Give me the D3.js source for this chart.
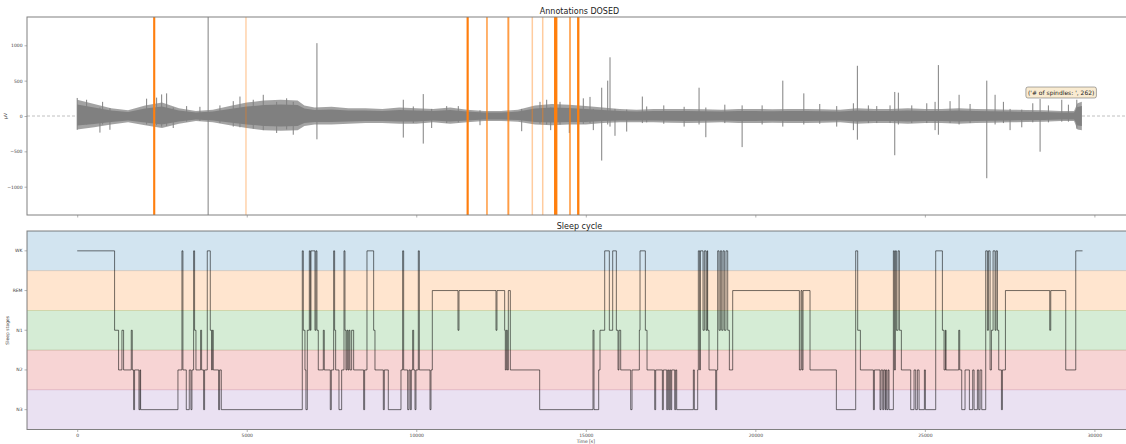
<!DOCTYPE html>
<html>
<head>
<meta charset="utf-8">
<script src="https://cdn.jsdelivr.net/npm/d3@7"></script>
<style>
  body { margin: 0; background: #fff; }
  svg { display: block; font-family: "DejaVu Sans", sans-serif; }
</style>
</head>
<body>
<div id="chart"></div>
<script>
// ---- data ----
const timeTicks = [0, 5000, 10000, 15000, 20000, 25000, 30000];
const voltTicks = [-1000, -500, 0, 500, 1000];
const stageLabels = ["WK", "REM", "N1", "N2", "N3"];

// EEG envelope (s, µV)
const envTimes = [0, 500, 1000, 1500, 2000, 2500, 3000, 3500, 4000, 4500, 5000, 5500, 6000, 6500, 6700,
  7000, 7500, 8000, 8500, 9000, 9500, 10000, 10500, 11000, 11500, 12000, 12500, 13000, 13500, 14000,
  14500, 15000, 15500, 16000, 16500, 17000, 17500, 18000, 18500, 19000, 19500, 20000, 20500, 21000,
  21500, 22000, 22500, 23000, 23500, 24000, 24500, 25000, 25500, 26000, 26500, 27000, 27500, 28000,
  28500, 29000, 29400, 29500, 29630];
const envUpper = [230, 170, 110, 80, 150, 190, 110, 70, 90, 140, 190, 220, 230, 220, 150,
  120, 130, 110, 110, 100, 120, 110, 100, 120, 90, 70, 70, 90, 150, 170,
  160, 140, 120, 100, 90, 100, 100, 100, 95, 90, 100, 100, 95, 100,
  100, 95, 90, 110, 100, 100, 110, 100, 100, 110, 100, 95, 90, 85,
  80, 70, 70, 180, 200];
const envLower = [-190, -160, -120, -90, -130, -170, -110, -70, -90, -130, -170, -200, -210, -200, -140,
  -120, -120, -110, -100, -100, -110, -110, -90, -110, -90, -70, -70, -80, -120, -130,
  -120, -120, -100, -90, -90, -90, -95, -100, -95, -90, -100, -100, -95, -100,
  -100, -95, -90, -110, -100, -100, -110, -100, -100, -110, -100, -95, -90, -85,
  -80, -70, -70, -190, -200];

// isolated artefacts / spikes (s, max µV, min µV)
const spikeTimes = [0, 277, 670, 749, 965, 2047, 2342, 2490, 2637, 2832, 3227, 3619, 3861, 4209, 4602,
  4800, 5192, 5487, 5882, 6177, 6372, 7070, 9617, 9912, 10206, 10454, 10897, 11239, 11879, 13109,
  13649, 13846, 13964, 14239, 14513, 14926, 15124, 15221, 15469, 15646, 15714, 15861, 16206, 16667,
  16796, 17300, 17900, 18340, 18540, 19100, 19610, 20200, 20810, 21430, 21900, 22400, 22891, 23009,
  23333, 23581, 23973, 24112, 24218, 24614, 25056, 25301, 25398, 25743, 26009, 26333, 26826, 27071,
  27316, 27513, 27858, 28183, 28398, 28643, 29038, 29233, 29481];
const spikeMax = [255, 230, 120, 200, 110, 245, 260, 305, 320, 120, 140, 130, 1500, 150, 210,
  275, 230, 300, 200, 250, 200, 1030, 230, 135, 310, 100, 140, 140, 80, 100,
  200, 230, 120, 200, 120, 250, 270, 100, 400, 500, 830, 100, 90, 275,
  135, 150, 130, 400, 120, 160, 150, 150, 500, 320, 170, 140, 180, 710,
  150, 140, 150, 340, 330, 150, 180, 200, 720, 210, 300, 170, 500, 300,
  200, 100, 90, 180, 240, 150, 230, 160, 230];
const spikeMin = [-195, -120, -235, -120, -195, -120, -130, -150, -140, -170, -80, -70, -1500, -100, -150,
  -160, -180, -200, -240, -190, -265, -330, -305, -100, -390, -170, -100, -90, -130, -215,
  -110, -120, -200, -120, -240, -110, -100, -200, -630, -120, -150, -280, -220, -100,
  -90, -110, -150, -120, -300, -100, -440, -120, -150, -120, -110, -150, -200, -335,
  -100, -100, -100, -555, -120, -100, -100, -200, -265, -100, -120, -100, -880, -120,
  -100, -200, -160, -90, -505, -90, -80, -80, -180];

// DOSED spindle detections (s) and detection score
const spindleTimes = [2263, 2280, 4977, 11505, 11525, 12085, 12705, 12725, 13422, 13729,
  14085, 14112, 14140, 14534, 14765, 14790];
const spindleScore = [1, 1, 0.35, 1, 1, 0.8, 0.6, 0.6, 0.4, 0.4, 1, 1, 1, 0.85, 1, 1];
const spindleCount = 262;

// hypnogram: epoch start (s) and stage
const hypnoTimes = [0, 1102, 1220, 1319, 1368, 1594, 1624, 1663, 1692, 1820, 1850, 1870, 2971, 3089, 3118,
  3217, 3305, 3354, 3384, 3433, 3462, 3502, 3639, 3669, 3728, 3757, 3836, 3925, 3964, 3984, 4013,
  4170, 4200, 4249,
  6638, 6668, 6717, 6746, 6786, 6845, 6874, 6894, 7012, 7041, 7071, 7110, 7258, 7287, 7464, 7494,
  7563, 7592, 7622, 7720, 7799, 7868, 7897, 7926, 7956, 7985, 8015, 8044, 8094, 8153, 8448, 8477,
  8546, 8743, 8782, 9028, 9057, 9175, 9549, 9598, 9628, 9746, 9785, 9824, 9854, 9893, 9923, 9962,
  9991, 10060, 10090, 10405, 10434, 10473, 11230, 11260,
  12351, 12380, 12607, 12626, 12656, 12685, 12715, 12774, 13639, 15212, 15242, 15380, 15419, 15557,
  15694, 15793, 15901, 15950, 15979, 16029, 16324, 16363, 16579, 16599, 16756, 16806, 17032, 17061,
  17258, 17287, 17386, 17415, 17445, 17474, 17504, 17533, 17622, 17651, 17681,
  18172, 18201, 18300, 18319, 18359, 18378, 18457, 18496, 18545, 18575, 18594, 18634, 18831, 18860,
  18890, 18929, 18968, 19008, 19047, 19086, 19135, 19185, 19234, 19332, 21299, 21348, 21378, 21407,
  21613, 22390, 22960, 23019, 23098, 23482, 23511, 23678, 23708, 23757, 23786, 23826,
  23845, 23875, 23914, 23943, 24071, 24101, 24130, 24160, 24209, 24248, 24307, 24583, 24681, 24730,
  24779, 24829, 24986, 25015, 25320, 25517, 25566, 25606, 25625, 25999, 26028, 26087, 26185, 26313,
  26411, 26451, 26549, 26588, 26628, 26677, 26795, 26844, 26874, 26923, 26962, 27012, 27071, 27100,
  27140, 27179, 27258, 27287, 27376, 28683, 28713, 29155, 29450, 29650];
const hypnoStages = ["WK", "N1", "N2", "N1", "N2", "N1", "N2", "N3", "N2", "N3", "N2", "N3", "N2", "WK", "N2",
  "N3", "N2", "N3", "N2", "WK", "N1", "N2", "N1", "N2", "N3", "N2", "WK", "N1", "N2", "N1", "N2",
  "N3", "N2", "N3",
  "WK", "N1", "N2", "N3", "N1", "WK", "N1", "WK", "N1", "WK", "N1", "N2", "N1", "N2", "N3", "N2",
  "WK", "N1", "N2", "N3", "N2", "WK", "N1", "N2", "N1", "N2", "N1", "N2", "N1", "N2", "N3", "N2",
  "WK", "N1", "N2", "N3", "N2", "N3", "N2", "WK", "N2", "N3", "N2", "N3", "N2", "N1", "N2", "N3",
  "N2", "WK", "N2", "N3", "N2", "REM", "N1", "REM",
  "N1", "REM", "N1", "N2", "N1", "N2", "REM", "N2", "N3", "N1", "N3", "N2", "N1", "WK",
  "N1", "WK", "N1", "N2", "N1", "N2", "N3", "N2", "N1", "WK", "N1", "N2", "N3", "N2",
  "N3", "N2", "N3", "N2", "N3", "N2", "N3", "N2", "N3", "N2", "N3",
  "N2", "N3", "N2", "WK", "N2", "WK", "N1", "WK", "N1", "WK", "N1", "N2", "N3", "N2",
  "WK", "N1", "WK", "N1", "WK", "N1", "WK", "N1", "N2", "REM", "N2", "REM", "N2", "REM",
  "N2", "N3", "WK", "N1", "N2", "N3", "N2", "N3", "N2", "N3", "N2", "N3",
  "N2", "N3", "N2", "N3", "WK", "N2", "WK", "N1", "WK", "N1", "N2", "N3", "N2", "N3",
  "N2", "N3", "N2", "N3", "WK", "N1", "N2", "N1", "N2", "N1", "N2", "N3", "N2", "N3",
  "N2", "N3", "N2", "N3", "N2", "N3", "WK", "N1", "WK", "N2", "N1", "WK", "N1", "WK",
  "N1", "N2", "N3", "N2", "REM", "N1", "REM", "N2", "WK", "WK"];

const bandColors = ["#1f77b4", "#ff7f0e", "#2ca02c", "#d62728", "#9467bd"];

// ---- layout ----
const W = 1126, H = 444;
const left = 27, right = 1132;
const p1 = { top: 17, bottom: 215 };
const p2 = { top: 231, bottom: 429.5 };

const svg = d3.select("#chart").append("svg")
    .attr("width", W)
    .attr("height", H);

const x = d3.scaleLinear().domain([-1481, 31109]).range([left, right]);
const y1 = d3.scaleLinear().domain([-1400, 1400]).range([p1.bottom, p1.top]);
const y2 = d3.scaleBand().domain(stageLabels).range([p2.top, p2.bottom]).padding(0);
const stageY = s => y2(s) + y2.bandwidth() / 2;

const defs = svg.append("defs");
defs.append("clipPath").attr("id", "clip1").append("rect")
    .attr("x", left).attr("y", p1.top).attr("width", right - left).attr("height", p1.bottom - p1.top);
defs.append("clipPath").attr("id", "clip2").append("rect")
    .attr("x", left).attr("y", p2.top).attr("width", right - left).attr("height", p2.bottom - p2.top);

// ---- top panel: EEG + annotations ----
const g1 = svg.append("g").attr("clip-path", "url(#clip1)");

g1.append("line")
    .attr("x1", left).attr("x2", right)
    .attr("y1", y1(0)).attr("y2", y1(0))
    .attr("stroke", "#b0b0b0")
    .attr("stroke-width", 0.8)
    .attr("stroke-dasharray", "3,2");

const env = envTimes.map((t, i) => ({ t: t, hi: envUpper[i], lo: envLower[i] }));
// outer fringe, a bit lighter
g1.append("path")
    .datum(env)
    .attr("fill", "#808080")
    .attr("fill-opacity", 0.72)
    .attr("d", d3.area().x(d => x(d.t)).y0(d => y1(d.lo)).y1(d => y1(d.hi)));
// dense core
g1.append("path")
    .datum(env)
    .attr("fill", "#808080")
    .attr("d", d3.area().x(d => x(d.t)).y0(d => y1(d.lo * 0.7)).y1(d => y1(d.hi * 0.7)));

g1.selectAll(".spike")
    .data(spikeTimes)
    .join("line")
    .attr("class", "spike")
    .attr("x1", d => x(d)).attr("x2", d => x(d))
    .attr("y1", (d, i) => y1(spikeMax[i]))
    .attr("y2", (d, i) => y1(spikeMin[i]))
    .attr("stroke", "#808080")
    .attr("stroke-width", 1);

const opacity = d3.scaleLinear().domain([0, 1]).range([0, 1]);
g1.selectAll(".spindle")
    .data(spindleTimes)
    .join("line")
    .attr("class", "spindle")
    .attr("x1", d => x(d)).attr("x2", d => x(d))
    .attr("y1", p1.top).attr("y2", p1.bottom)
    .attr("stroke", "#ff7f0e")
    .attr("stroke-opacity", (d, i) => opacity(spindleScore[i]))
    .attr("stroke-width", 1.5);

// annotation box
const note = svg.append("g").attr("transform", `translate(${x(27950)},${y1(335)})`);
const noteText = note.append("text")
    .attr("x", 3).attr("y", 2.2)
    .attr("font-size", "6px")
    .attr("fill", "#222")
    .text("('# of spindles: ', " + spindleCount + ")");
const nb = noteText.node().getBBox();
note.insert("rect", "text")
    .attr("x", nb.x - 2).attr("y", nb.y - 1.5)
    .attr("width", nb.width + 4).attr("height", nb.height + 3)
    .attr("rx", 2)
    .attr("fill", "#f5deb3").attr("fill-opacity", 0.6)
    .attr("stroke", "#555").attr("stroke-width", 0.5);

// ---- bottom panel: hypnogram ----
const g2 = svg.append("g").attr("clip-path", "url(#clip2)");

g2.selectAll(".band")
    .data(stageLabels)
    .join("rect")
    .attr("class", "band")
    .attr("x", left).attr("width", right - left)
    .attr("y", d => y2(d)).attr("height", y2.bandwidth())
    .attr("fill", (d, i) => bandColors[i])
    .attr("fill-opacity", 0.2)
    .attr("stroke", (d, i) => bandColors[i])
    .attr("stroke-opacity", 0.15)
    .attr("stroke-width", 0.8);

const hypno = hypnoTimes.map((t, i) => ({ t: t, s: hypnoStages[i] }));
g2.append("path")
    .datum(hypno)
    .attr("fill", "none")
    .attr("stroke", "#000")
    .attr("stroke-opacity", 0.55)
    .attr("stroke-width", 1)
    .attr("d", d3.line().curve(d3.curveStepAfter).x(d => x(d.t)).y(d => stageY(d.s)));

// ---- axes ----
const axisColor = "#808080";
function frame(p) {
    svg.append("rect")
        .attr("x", left).attr("y", p.top)
        .attr("width", right - left).attr("height", p.bottom - p.top)
        .attr("fill", "none")
        .attr("stroke", axisColor)
        .attr("stroke-width", 1);
}
frame(p1);
frame(p2);

function styleAxis(g) {
    g.select(".domain").remove();
    g.selectAll(".tick line").attr("stroke", axisColor).attr("stroke-width", 0.6);
    g.selectAll(".tick text").attr("fill", "#444").attr("font-size", "4.5px")
        .attr("font-family", "DejaVu Sans, sans-serif");
}

svg.append("g")
    .attr("transform", `translate(0,${p1.bottom})`)
    .call(d3.axisBottom(x).tickValues(timeTicks).tickSize(2.5).tickFormat(""))
    .call(styleAxis);

svg.append("g")
    .attr("transform", `translate(0,${p2.bottom})`)
    .call(d3.axisBottom(x).tickValues(timeTicks).tickSize(2.5).tickPadding(1.5).tickFormat(d3.format("d")))
    .call(styleAxis);

svg.append("g")
    .attr("transform", `translate(${left},0)`)
    .call(d3.axisLeft(y1).tickValues(voltTicks).tickSize(2.5).tickPadding(2)
        .tickFormat(d => d < 0 ? "\u2212" + Math.abs(d) : d))
    .call(styleAxis);

svg.append("g")
    .attr("transform", `translate(${left},0)`)
    .call(d3.axisLeft(y2).tickSize(2.5).tickPadding(2))
    .call(styleAxis);

// titles and labels
svg.append("text")
    .attr("x", (left + right) / 2).attr("y", 14)
    .attr("text-anchor", "middle")
    .attr("font-size", "8px")
    .attr("fill", "#222")
    .text("Annotations DOSED");

svg.append("text")
    .attr("x", (left + right) / 2).attr("y", 228.5)
    .attr("text-anchor", "middle")
    .attr("font-size", "8px")
    .attr("fill", "#222")
    .text("Sleep cycle");

svg.append("text")
    .attr("transform", `translate(7,${y1(0)}) rotate(-90)`)
    .attr("text-anchor", "middle")
    .attr("font-size", "4.5px")
    .attr("fill", "#444")
    .text("µV");

svg.append("text")
    .attr("transform", `translate(9,${(p2.top + p2.bottom) / 2}) rotate(-90)`)
    .attr("text-anchor", "middle")
    .attr("font-size", "4.5px")
    .attr("fill", "#444")
    .text("Sleep stages");

svg.append("text")
    .attr("x", x(15000)).attr("y", 442.5)
    .attr("text-anchor", "middle")
    .attr("font-size", "4.5px")
    .attr("fill", "#444")
    .text("Time [s]");
</script>
</body>
</html>
